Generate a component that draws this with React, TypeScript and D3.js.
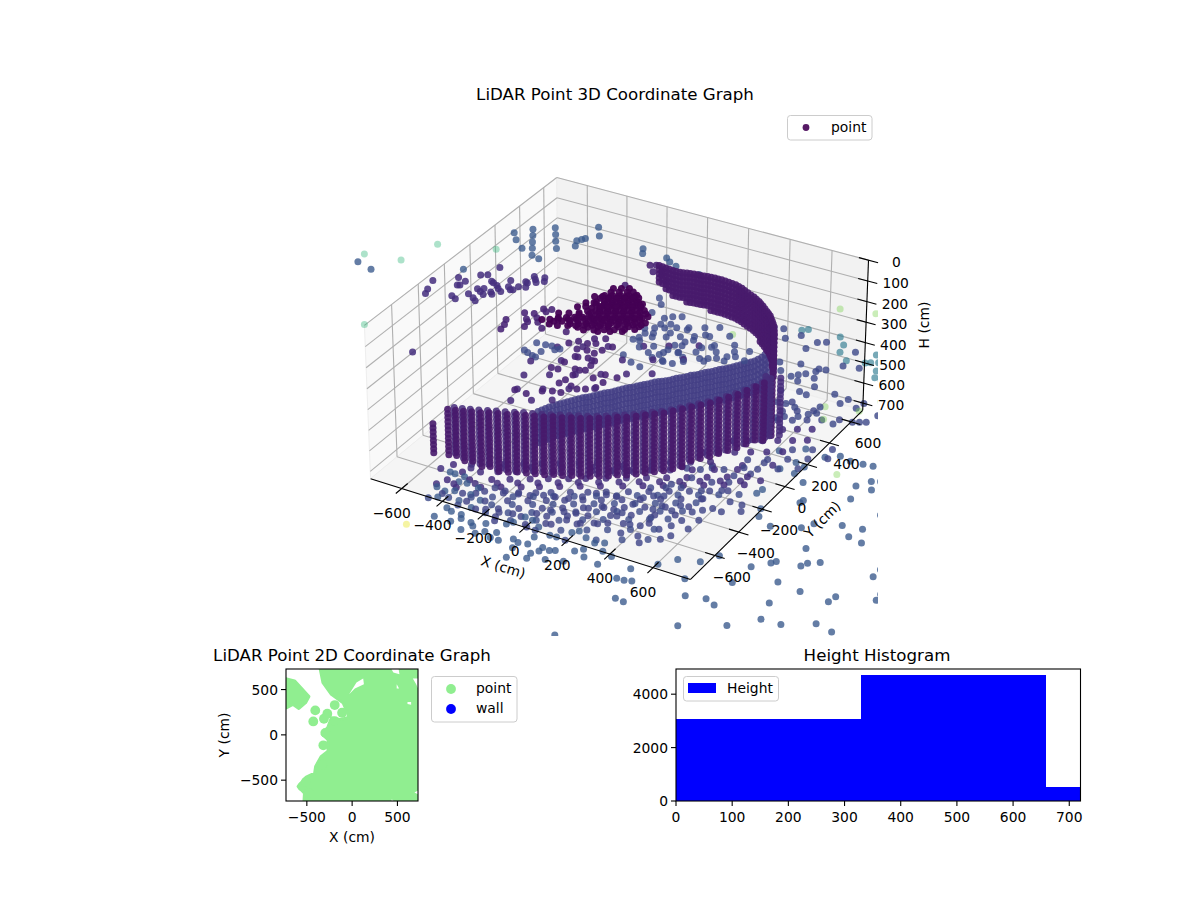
import * as d3 from "d3";

type P2 = [number, number];
type Col = [number, number, number]; // x, y, lowest height

const FONT = "DejaVu Sans";

// limits of the 3D box
const xLim3d = [-755, 772];
const yLim3d = [-800, 710];
const hLim3d = [0, 736];
const xTicks3d = [-600, -400, -200, 0, 200, 400, 600];
const yTicks3d = [-600, -400, -200, 0, 200, 400, 600];
const hTicks3d = [0, 100, 200, 300, 400, 500, 600, 700];

// floor returns, read group by group
const floorWest: P2[] = [[-481,-716],[-435,-727],[-400,-706],[-435,-781],[-344,-761],[-495,-592],[-471,-592],[-423,-594],[-423,-638],[-387,-631],[-327,-639],[-327,-698],[-269,-716],[-271,-782],[-357,-833],[-327,-846],[-279,-846],[-367,-913],[-289,-911],[-211,-879],[-263,-872],[-219,-943],[-191,-897],[-155,-854],[-153,-939],[-126,-908],[-81,-890],[-83,-935],[-44,-936],[-80,-816],[-62,-791],[-41,-733],[-2,-740],[46,-770],[118,-801],[148,-798],[70,-844],[4,-898],[34,-911],[74,-901],[35,-955],[140,-893],[140,-922],[120,-954],[175,-899],[195,-886],[125,-992],[50,-1026],[195,-964],[265,-938],[320,-870],[265,-851],[290,-823],[395,-889],[340,-740],[305,-760],[255,-744],[185,-739],[205,-714],[365,-797],[415,-813],[505,-1402],[545,-936],[620,-1070]];
const floorWestMid: P2[] = [[-291,-647],[-267,-604],[-218,-604],[-158,-597],[-110,-583],[-62,-554],[-14,-541],[40,-524],[83,-484],[119,-432],[161,-422],[203,-412],[-213,-763],[-153,-756],[-98,-738],[-14,-688],[22,-637],[76,-620],[125,-606],[149,-547],[191,-507],[245,-505],[-135,-819],[4,-795],[58,-734],[118,-669],[179,-662],[227,-633],[275,-604],[281,-541]];
const floorFill: P2[] = [[-433,-750],[-361,-707],[-314,-679],[-216,-621],[-162,-588],[-101,-552],[-47,-520],[22,-479],[84,-442],[149,-403],[228,-356],[301,-313],[373,-270],[445,-227],[517,-184],[582,-145],[-314,-750],[-249,-711],[-169,-664],[-97,-621],[-32,-582],[33,-543],[98,-505],[163,-466],[236,-423],[301,-384],[373,-341],[445,-298],[518,-255],[-250,-782],[-170,-734],[-98,-691],[-15,-642],[57,-599],[130,-555],[202,-512],[274,-469],[347,-426],[419,-383],[502,-334],[-148,-792],[-58,-738],[32,-684],[105,-641],[177,-598],[256,-550],[329,-507],[412,-458],[484,-415],[-11,-781],[79,-727],[170,-673],[242,-630],[332,-576],[423,-523]];
const floorFillNear: P2[] = [[-545,-587],[-437,-522],[-328,-457],[-220,-393],[-112,-328],[-3,-264],[105,-199],[214,-135],[322,-70],[431,-5],[539,59],[648,124],[-495,-698],[-433,-661],[-357,-616],[-278,-569],[-205,-526],[-133,-483],[-61,-440],[11,-397],[84,-354],[156,-310],[228,-267],[301,-224],[373,-181],[445,-138],[518,-95],[590,-52],[662,-9]];
const floorFillFar: P2[] = [[-466,-805],[-394,-762],[-314,-715],[-239,-669],[-166,-626],[-94,-583],[-22,-540],[51,-497],[130,-450],[202,-407],[275,-364],[347,-320],[419,-277],[492,-234],[564,-191],[636,-148],[-329,-793],[-210,-722],[-137,-679],[-65,-636],[7,-593],[80,-550],[152,-507],[224,-464],[297,-421],[369,-378],[441,-335],[513,-292],[-199,-787],[-119,-740],[-36,-690],[36,-647],[119,-598],[192,-555],[264,-511],[344,-464],[416,-421],[495,-374],[-79,-786],[11,-732],[91,-685],[174,-635],[246,-592],[336,-539],[409,-496],[474,-457],[47,-799],[137,-746],[228,-692],[300,-649],[380,-601],[463,-552],[191,-802],[299,-738],[389,-684],[480,-631]];
const floorEast: P2[] = [[617,240],[723,191],[688,113],[708,307],[809,288],[770,176],[758,110],[861,328],[916,313],[973,318],[1017,324],[822,66],[1025,151],[1065,213],[1099,231],[1095,155],[1052,50],[1215,0],[695,-104],[701,-65],[766,-200],[787,-255],[863,-298],[884,-79],[888,-57],[978,-245],[1008,-192],[1115,-148],[1199,-131],[1176,-209],[1242,-225],[1066,-372],[1164,-436],[1122,-465],[1108,-496],[1007,-516],[994,-537],[938,-600],[1083,-644],[927,-737],[1191,-660],[1322,-669],[1331,-624],[1395,-423],[1397,-362],[1478,-521],[1481,-566],[1124,-793],[942,-913],[893,-890],[811,-912],[750,-807],[657,-700],[743,-668],[789,-593],[605,-769],[527,-852],[575,-926],[513,-939],[580,-1064],[889,-1110],[1054,-1012],[1149,-908],[1234,-902],[1351,-829],[1430,-850],[1004,-1171]];
const floorEastMid: P2[] = [[685,-213],[631,-216],[706,-259],[637,-301],[594,-297],[564,-329],[534,-362],[468,-342],[456,-394],[402,-381],[383,-422],[372,-312],[335,-333],[305,-366],[293,-431],[287,-509],[359,-569],[401,-558],[407,-481],[480,-542],[546,-561],[522,-604],[461,-670],[431,-629],[359,-643],[510,-494],[528,-439],[582,-481],[588,-403],[553,-85],[559,-156],[492,-121],[486,-199],[402,-131],[402,-220],[354,-218],[601,16],[608,123],[553,47],[547,-30],[487,-7],[438,-21],[402,-57],[348,-75],[348,-252],[293,-284],[522,-251],[608,65],[681,108],[753,151],[536,110],[608,153],[680,197],[753,240],[825,283],[662,274],[735,317],[807,360],[494,456],[548,488],[602,520],[656,552],[721,591],[476,533],[530,566],[591,602],[422,590],[476,622]];
const wallFuzz: P2[] = [[-516,-534],[-451,-495],[-386,-456],[-332,-424],[-263,-383],[-198,-344],[-133,-306],[-64,-265],[1,-226],[73,-183],[135,-146],[200,-108],[265,-69],[337,-26],[409,18],[-451,-566],[-386,-528],[-324,-491],[-259,-452],[-194,-413],[-126,-373],[-60,-334],[12,-291],[84,-248],[149,-209],[222,-166],[294,-123],[373,-75],[453,-28],[536,21],[-473,-649],[-393,-602],[-314,-555],[-249,-516],[-177,-473],[-112,-434],[-39,-391],[22,-355],[94,-311],[167,-268],[239,-225],[311,-182],[384,-139],[456,-96],[528,-53],[600,-10],[-408,-682],[-321,-630],[-249,-587],[-177,-544],[-112,-505],[-40,-462],[33,-419],[105,-376],[185,-329],[257,-286],[329,-243],[401,-200],[474,-157],[546,-114],[618,-70],[345,67],[402,102],[460,136],[518,170],[576,205],[634,239],[410,212],[464,244],[518,276],[573,309],[627,341],[681,373],[493,367],[548,399],[602,432],[656,464]];

// points on the right, higher up
const rightMid: P2[] = [[333,711],[419,653],[375,721],[467,708],[556,687],[588,710],[537,618],[735,694],[742,565],[810,582],[580,490],[494,462],[531,401],[612,406],[636,428],[592,379],[664,466],[666,491],[695,499],[684,413],[718,351],[634,359],[682,285],[678,171],[724,163],[609,256],[718,277],[771,103],[799,140],[825,165],[814,217],[820,338],[888,329],[874,282],[949,282],[959,332],[924,121],[987,173],[1012,188],[1036,202],[1054,272],[1096,223],[722,75],[696,50]];
const rightTeal: P2[] = [[448,749],[470,768],[619,778],[663,724],[678,661],[734,611],[812,634],[832,646],[861,663],[823,717],[883,597],[903,544],[935,539]];
const farGreen: P2[] = [[506,996],[659,1037],[208,568],[832,228],[873,135],[971,266],[1118,-220],[976,475],[1014,381]];
const farYellow: P2[] = [[-433,-1020],[-590,-1235]];
const farTeal: P2[] = [[-884,408],[-1359,87],[-1190,120],[-1130,319],[-1011,-433]];

// left wall and middle of the room
const backPurple: P2[] = [[-970,33],[-948,-42],[-935,-79],[-826,-41],[-799,-56],[-889,111],[-857,51],[-847,56],[-845,96],[-774,9],[-738,-11],[-717,-28],[-765,67],[-741,51],[-741,81],[-717,36],[-700,70],[-685,55],[-818,177],[-792,193],[-782,275],[-747,152],[-733,144],[-707,131],[-689,112],[-665,94],[-659,147],[-638,128],[-629,134],[-679,198],[-622,169],[-618,222],[-606,215],[-592,179],[-576,238],[-610,279],[-592,258],[-565,292],[-550,263],[-709,-526]];
const backBlue: P2[] = [[-896,577],[-854,525],[-791,472],[-841,645],[-811,595],[-781,543],[-751,493],[-719,438],[-677,425],[-763,706],[-729,653],[-696,599],[-659,544],[-619,650],[-599,604],[-606,670],[-596,685],[-599,804],[-555,736],[-1343,13],[-1257,-14],[-910,183],[-330,730],[-309,690],[-198,706],[-168,681],[-126,661],[-3,646]];
const innerPurple: P2[] = [[-480,-12],[-445,-54],[-428,-73],[-418,-114],[-441,2],[-412,-24],[-389,-54],[-427,55],[-405,39],[-394,68],[-348,-89],[-517,-101],[-500,-141],[-493,-181],[-243,-65],[-185,-140],[-157,-108],[-115,-106],[-110,-57],[-85,-88],[-70,-33],[-10,-79],[-130,-166],[-104,-224],[-92,-222],[-119,-285],[-88,-155],[-34,-123],[-49,-162],[-52,-207],[-143,-350],[-113,-347],[-10,-256],[-16,-215],[-52,-311],[-31,-312],[-10,-300],[50,-338],[80,-291],[134,-288],[-34,-359],[-41,-407],[-50,-442],[5,-439],[-179,-578],[-77,-531],[-123,-580],[-41,-510],[-5,-503],[38,-448],[68,-430],[98,-398],[104,-350],[-228,614],[-205,628],[-188,570],[-159,597],[-141,563],[-93,518],[-232,406]];
const innerBlue: P2[] = [[-303,-204],[-262,-200],[-233,-197],[-315,-282],[-293,-292],[-263,-304],[-245,-308],[-248,-259],[-207,-217],[-191,-202],[-49,382],[-14,336],[-13,256],[57,239],[81,268],[115,288],[105,209],[69,187],[80,106],[141,142],[189,201],[277,200],[255,137],[231,107],[207,63],[201,16],[189,-36],[176,-72],[225,-73],[273,-74],[285,-8],[249,15],[315,99],[348,124],[351,17],[381,35],[411,53],[442,86],[472,104],[50,88],[62,22],[86,-23],[61,-112],[120,-150],[170,-164],[32,19]];
const fingers: P2[] = [[27,125],[63,146],[99,168],[142,194],[186,220],[244,254],[298,286],[45,47],[92,75],[142,105],[193,135],[243,166],[298,198],[370,241],[135,12],[236,73],[352,142],[424,185],[142,-45],[196,-13],[250,19],[312,56],[384,99],[449,138],[503,170],[232,-80],[304,-37],[377,6],[449,49],[521,92]];
const innerExtra: P2[] = [[-209,-192],[-118,-138],[-28,-84],[99,-9],[189,45],[297,109],[-245,-346],[-137,-281],[-28,-217],[80,-152],[189,-88],[297,-23],[-209,-458],[-119,-404],[-28,-350],[62,-296],[152,-242],[243,-189],[-173,-568],[-83,-515],[8,-461],[98,-407],[-148,-659],[-76,-616],[-4,-573]];

// the dense return close to the sensor
const nearCluster: P2[] = [[-117,91],[-88,109],[-59,126],[-37,139],[-128,23],[-99,40],[-70,57],[-41,75],[-12,92],[9,105],[-117,-32],[-88,-15],[-60,3],[-31,20],[-2,37],[27,54],[49,67],[-120,-96],[-91,-79],[-62,-62],[-34,-44],[-5,-27],[24,-10],[53,7],[82,25],[-197,-203],[-168,-186],[-139,-169],[-110,-152],[-81,-134],[-52,-117],[-23,-100],[6,-83],[35,-65],[64,-48],[93,-31],[122,-14],[-201,-268],[-128,-224],[-99,-207],[-70,-190],[-41,-173],[-12,-156],[16,-138],[45,-121],[74,-104],[103,-87],[139,-65],[-53,-241],[-16,-220],[20,-198],[56,-177],[92,-155],[128,-134],[-125,52],[-96,69],[-67,87],[-38,104],[-9,121],[-127,-12],[-98,5],[-70,23],[-41,40],[-12,57],[17,74],[-117,-67],[-88,-50],[-59,-33],[-30,-16],[-1,1],[28,19],[57,36],[-135,-140],[-99,-119],[-70,-101],[-41,-84],[-12,-67],[17,-50],[46,-33],[75,-15],[103,2],[-197,-239],[-168,-222],[-139,-204],[-110,-187],[-74,-166],[-45,-149],[-16,-131],[13,-114],[42,-97],[70,-80],[107,-58],[-85,-234],[-49,-213],[-13,-191],[23,-170],[59,-148],[95,-127],[132,-105],[-96,34],[-67,52],[-38,69],[-9,87],[-84,-25],[-55,-8],[-26,9],[3,26],[32,43],[-75,-76],[-46,-59],[-17,-42],[12,-25],[41,-7],[-60,-142],[-31,-125],[-2,-108],[27,-90],[56,-73],[85,-56],
  [-124,123],[-95,140],[-66,157],[-157,24],[-128,41],[-99,58],[-70,76],[-41,93],[-12,110],[-161,-40],[-132,-23],[-88,3],[-59,20],[-30,37],[-2,54],[27,72],[-175,-85],[-146,-67],[-95,-37],[-66,-20],[-37,-3],[-8,14],[21,32],[50,49],[-215,-170],[-178,-149],[-142,-127],[-99,-101],[-70,-84],[-41,-67],[-12,-50],[17,-33],[46,-15],[75,2],[-247,-251],[-219,-234],[-190,-216],[-153,-195],[-125,-178],[-96,-160],[-67,-143],[-38,-126],[-9,-109],[20,-91],[49,-74],[78,-57],[107,-40],[-165,-263],[-128,-242],[-100,-225],[-71,-207],[-42,-190],[-13,-173],[16,-156],[45,-138],[74,-121],[103,-104],[132,-87],[5,-224],[48,-198],[92,-173]];

// wall columns: x, y, lowest height reached
const frontWall: Col[] = [[-461,-762,540],[-471,-635,620],[-439,-625,620],[-406,-615,640],[-374,-603,640],[-338,-591,660],[-308,-574,660],[-273,-561,680],[-236,-548,680],[-204,-529,680],[-168,-516,680],[-132,-504,680],[-95,-491,680],[-63,-471,680],[-27,-459,680],[6,-440,680],[42,-427,680],[75,-408,680],[107,-388,680],[140,-369,680],[168,-343,680],[201,-324,680],[231,-298,680],[259,-271,680],[288,-245,680],[317,-219,680],[342,-186,680],[368,-154,680],[393,-121,660],[418,-88,660],[444,-55,660],[465,-16,660],[487,24,660],[509,63,660],[527,109,660],[545,155,660],[560,199,680],[571,250,680]];
const frontWallBack: Col[] = [[-455,-610,620],[-422,-600,640],[-390,-589,640],[-356,-577,660],[-323,-562,660],[-290,-547,680],[-255,-534,680],[-220,-518,680],[-186,-502,680],[-150,-490,680],[-113,-477,680],[-79,-461,680],[-45,-445,680],[-10,-429,680],[24,-413,680],[58,-397,680],[91,-378,680],[123,-358,680],[154,-336,680],[184,-313,680],[216,-291,680],[245,-264,680],[273,-238,680],[302,-212,680],[330,-182,680],[355,-150,680],[380,-117,660],[405,-84,660],[431,-51,660],[454,-15,660],[476,24,660],[498,64,660],[518,106,660],[536,152,660],[552,197,680],[566,245,680],[555,225,680],[540,250,680],[600,270,680]];
const wallLevels = [400, 420, 440, 460, 480, 500, 520, 540, 560, 580, 600, 620, 640, 660, 680];
const innerBand: P2[] = [[-95,-536],[-81,-501],[-66,-467],[-48,-438],[-30,-410],[-12,-381],[7,-352],[28,-331],[47,-302],[65,-274],[87,-252],[104,-224],[123,-195],[145,-173],[163,-145],[184,-123],[202,-94],[224,-73],[246,-51],[264,-23],[286,-1],[304,28],[326,49],[344,78],[365,100],[384,128],[405,150],[423,178],[442,207],[460,235],[478,264],[489,306],[492,360],[-88,-518],[-74,-484],[-57,-452],[-39,-424],[-21,-395],[-3,-366],[17,-341],[37,-316],[56,-288],[76,-263],[95,-238],[113,-209],[134,-184],[154,-159],[173,-134],[193,-108],[213,-83],[235,-62],[255,-37],[275,-12],[295,13],[315,38],[335,63],[354,89],[374,114],[394,139],[414,164],[432,192],[451,221],[469,249],[483,285],[490,333]];
const innerLevels = [350, 375, 400, 425, 450, 475, 500];
const backBand: Col[] = [[-12,314,130],[24,309,150],[60,304,170],[93,305,170],[122,314,190],[151,322,190],[183,324,190],[212,332,190],[245,334,210],[277,335,210],[313,331,210],[349,326,210],[386,312,210],[425,291,210],[465,271,210],[501,248,220],[533,223,230],[569,191,230],[598,165,240],[627,129,240],[655,93,250],[684,40,250],[6,311,140],[42,306,160],[76,304,170],[107,309,180],[136,318,190],[167,323,190],[197,328,190],[228,333,210],[261,334,210],[295,333,210],[331,328,210],[367,319,210],[405,301,210],[445,281,210],[483,259,220],[517,235,230],[551,207,230],[583,178,240],[612,147,240],[641,111,250],[669,66,250]];
const backLevels = [50, 70, 90, 110, 130, 150, 170, 190, 210, 230, 250];

// 2D outline, in cm
const coverMain: P2[] = [[-359,760],[780,760],[780,-760],[-533,-760],[-526,-644],[-596,-570],[-507,-466],[-414,-422],[-403,-348],[-340,-237],[-266,-181],[-266,-52],[-329,4],[-266,89],[-229,189],[-137,170],[-44,189],[-44,226],[-100,355],[-229,448],[-322,577]];
const coverLeft: P2[] = [[-747,622],[-636,596],[-477,422],[-514,355],[-588,292],[-655,337],[-722,300],[-790,300]];
const coverDots: P2[] = [[-407,270],[-429,148],[-274,233],[-311,178],[-192,329],[-111,244],[-192,152],[-296,22],[-318,-115],[-550,-570],[-510,-520],[-480,-640],[-330,-330]];
const coverHoles: P2[][] = [
  [[-33,448],[48,577],[122,622],[130,559],[30,511]],
  [[426,740],[511,740],[522,670],[455,688]],
  [[670,622],[740,622],[740,485],[707,559]],
  [[492,559],[518,511],[492,511]],
  [[611,363],[651,363],[651,333],[611,340]],
  [[688,-636],[740,-607],[740,-662]],
  [[437,-710],[470,-740],[430,-740]],
];
const ticks2d = [-500, 0, 500];

const histEdges = [0, 329, 658, 988];
const histCounts = [3070, 4720, 525];
const histXTicks = [0, 100, 200, 300, 400, 500, 600, 700];
const histYTicks = [0, 2000, 4000];

// --- 3D projection, same maths as a mplot3d camera
const elev = (30 * Math.PI) / 180;
const azim = (-60 * Math.PI) / 180;
const eye = [Math.cos(elev) * Math.cos(azim), Math.cos(elev) * Math.sin(azim), Math.sin(elev)];
const uAxis = [-Math.sin(azim), Math.cos(azim), 0];
const vAxis = [-Math.sin(elev) * Math.cos(azim), -Math.sin(elev) * Math.sin(azim), Math.cos(elev)];

const xBox = d3.scaleLinear().domain(xLim3d).range([-0.5, 0.5]);
const yBox = d3.scaleLinear().domain(yLim3d).range([-0.5, 0.5]);
const hBox = d3.scaleLinear().domain(hLim3d).range([0.24, -0.24]);
const screenX = d3.scaleLinear().domain([0, 0.1]).range([620.5, 985]);
const screenY = d3.scaleLinear().domain([0, 0.1]).range([369, 4]);

function project(x: number, y: number, h: number) {
  const p = [xBox(x), yBox(y), hBox(h)];
  const dot = (a: number[]) => a[0] * p[0] + a[1] * p[1] + a[2] * p[2];
  const depth = dot(eye);
  const d = 10 - depth;
  return { sx: screenX(dot(uAxis) / d), sy: screenY(dot(vAxis) / d), depth };
}

const [xa, xb] = xLim3d;
const [ya, yb] = yLim3d;
const [ha, hb] = hLim3d;

function pane(corners: number[][]) {
  return corners.map((c) => {
    const q = project(c[0], c[1], c[2]);
    return `${q.sx},${q.sy}`;
  }).join(" ");
}

function seg(a: number[], b: number[]) {
  const p = project(a[0], a[1], a[2]);
  const q = project(b[0], b[1], b[2]);
  return { x1: p.sx, y1: p.sy, x2: q.sx, y2: q.sy };
}

interface Dot { x: number; y: number; h: number; c: number; top?: boolean }
const group = (pts: P2[], h: number, c: number): Dot[] => pts.map(([x, y]) => ({ x, y, h, c }));
const columns = (cols: Col[], levels: number[], c: number, top = false): Dot[] =>
  cols.flatMap(([x, y, low]) => levels.filter((h) => h <= low).map((h) => ({ x, y, h, c, top })));

const dots: Dot[] = [
  ...group(floorWest, hb, 0.27),
  ...group(floorWestMid, hb, 0.2),
  ...group(floorFill, hb, 0.2),
  ...group(floorFillNear, hb, 0.15),
  ...group(floorFillFar, hb, 0.23),
  ...group(floorEast, hb, 0.27),
  ...group(floorEastMid, hb, 0.21),
  ...group(wallFuzz, hb, 0.14),
  ...group(rightMid, 450, 0.22),
  ...group(rightTeal, 450, 0.4),
  ...group(farGreen, 450, 0.8),
  ...group(farYellow, hb, 0.96),
  ...group(farTeal, 250, 0.66),
  ...group(backPurple, 250, 0.14),
  ...group(backBlue, 250, 0.27),
  ...group(innerPurple, 250, 0.1),
  ...group(innerBlue, 250, 0.23),
  ...group(fingers, 250, 0.23),
  ...group(innerExtra, 250, 0.12),
  ...group(nearCluster, 100, 0),
  ...innerBand.flatMap(([x, y]) => innerLevels.map((h) => ({ x, y, h, c: 0.18 }))),
  ...columns(frontWallBack, wallLevels, 0.13, true),
  ...columns(frontWall, wallLevels, 0.07, true),
  ...columns(backBand, backLevels, 0.07),
];

// the front wall sits over the inner band, everything else by depth
const projected = dots
  .map((d) => ({ ...project(d.x, d.y, d.h), c: d.c, top: d.top ? 1 : 0 }))
  .sort((a, b) => d3.ascending(a.top, b.top) || d3.ascending(a.depth, b.depth));

const alphaOf = d3.scaleLinear().domain([0, 0.3, 0.6]).range([0.95, 0.76, 0.4]).clamp(true);
const GRID = "#b0b0b0";

// --- 2D axes
const x2d = d3.scaleLinear().domain([-730, 727]).range([286, 418]);
const y2d = d3.scaleLinear().domain([-730, 727]).range([801, 669]);
const coverLine = d3.line<P2>().x((d) => x2d(d[0])).y((d) => y2d(d[1])).curve(d3.curveLinearClosed);

// --- histogram
const xHist = d3.scaleLinear().domain([0, 720]).range([676, 1080.5]);
const yHist = d3.scaleLinear().domain([0, 4943]).range([801, 669]);

const label = { fontFamily: FONT, fontSize: 13.89, fill: "#000" };
const title = { fontFamily: FONT, fontSize: 16.67, fill: "#000" };

export default function App() {
  return (
    <svg width={1200} height={900} style={{ position: "absolute", left: 0, top: 0, background: "#fff" }}>
      <defs>
        <clipPath id="clip3d"><rect x={350} y={111} width={528} height={525} /></clipPath>
        <clipPath id="clip2d"><rect x={286} y={669} width={132} height={132} /></clipPath>
        <clipPath id="clipHist"><rect x={676} y={669} width={404.5} height={132} /></clipPath>
      </defs>

      <text x={615} y={100} textAnchor="middle" {...title}>LiDAR Point 3D Coordinate Graph</text>

      {/* panes */}
      <polygon points={pane([[xa, ya, ha], [xa, yb, ha], [xa, yb, hb], [xa, ya, hb]])} fill="#f9f9f9" stroke="#eeeeee" />
      <polygon points={pane([[xa, yb, ha], [xb, yb, ha], [xb, yb, hb], [xa, yb, hb]])} fill="#f2f2f2" stroke="#eeeeee" />
      <polygon points={pane([[xa, ya, hb], [xb, ya, hb], [xb, yb, hb], [xa, yb, hb]])} fill="#f5f5f5" stroke="#eeeeee" />

      {/* grid */}
      <g stroke={GRID} strokeWidth={1.1} fill="none">
        {xTicks3d.map((t) => (
          <g key={t}>
            <line {...seg([t, ya, hb], [t, yb, hb])} />
            <line {...seg([t, yb, hb], [t, yb, ha])} />
          </g>
        ))}
        {yTicks3d.map((t) => (
          <g key={t}>
            <line {...seg([xb, t, hb], [xa, t, hb])} />
            <line {...seg([xa, t, hb], [xa, t, ha])} />
          </g>
        ))}
        {hTicks3d.map((t) => (
          <g key={t}>
            <line {...seg([xa, ya, t], [xa, yb, t])} />
            <line {...seg([xa, yb, t], [xb, yb, t])} />
          </g>
        ))}
      </g>

      {/* points */}
      <g clipPath="url(#clip3d)">
        {projected.map((d, i) => (
          <circle key={i} cx={d.sx} cy={d.sy} r={3.5} fill={d3.interpolateViridis(d.c)} fillOpacity={alphaOf(d.c)} />
        ))}
      </g>

      {/* 3D axes */}
      <g stroke="#000" strokeWidth={1.1}>
        <line {...seg([xa, ya, hb], [xb, ya, hb])} />
        <line {...seg([xb, ya, hb], [xb, yb, hb])} />
        <line {...seg([xb, yb, hb], [xb, yb, ha])} />
        {xTicks3d.map((t) => <line key={t} {...seg([t, ya - 45, hb], [t, ya + 45, hb])} />)}
        {yTicks3d.map((t) => <line key={t} {...seg([xb - 45, t, hb], [xb + 45, t, hb])} />)}
        {hTicks3d.map((t) => <line key={t} {...seg([xb + 45, yb, t], [xb - 45, yb, t])} />)}
      </g>
      {xTicks3d.map((t) => {
        const q = project(t, ya, hb);
        return <text key={t} x={q.sx - 10} y={q.sy + 29} textAnchor="middle" {...label}>{String(t).replace("-", "\u2212")}</text>;
      })}
      {yTicks3d.map((t) => {
        const q = project(xb, t, hb);
        return <text key={t} x={q.sx + 17} y={q.sy + 26} textAnchor="middle" {...label}>{String(t).replace("-", "\u2212")}</text>;
      })}
      {hTicks3d.map((t) => {
        const q = project(xb, yb, t);
        return <text key={t} x={q.sx + 28} y={q.sy + 7} textAnchor="middle" {...label}>{t}</text>;
      })}
      <text transform="translate(503,568) rotate(17)" textAnchor="middle" dominantBaseline="middle" {...label}>X (cm)</text>
      <text transform="translate(823,520) rotate(-45)" textAnchor="middle" dominantBaseline="middle" {...label}>Y (cm)</text>
      <text transform="translate(925,325) rotate(-90)" textAnchor="middle" dominantBaseline="middle" {...label}>H (cm)</text>

      {/* 3D legend */}
      <rect x={787.5} y={115.5} width={84.5} height={24.5} rx={3} fill="#fff" fillOpacity={0.8} stroke="#cccccc" />
      <circle cx={806} cy={127.5} r={3.4} fill="#440154" fillOpacity={0.9} />
      <text x={831} y={132} {...label}>point</text>

      {/* 2D plot */}
      <text x={352} y={661} textAnchor="middle" {...title}>LiDAR Point 2D Coordinate Graph</text>
      <g clipPath="url(#clip2d)">
        <path d={coverLine(coverMain) ?? ""} fill="#90ee90" stroke="#90ee90" strokeWidth={3} strokeLinejoin="round" />
        <path d={coverLine(coverLeft) ?? ""} fill="#90ee90" stroke="#90ee90" strokeWidth={3} strokeLinejoin="round" />
        {coverDots.map((d, i) => <circle key={i} cx={x2d(d[0])} cy={y2d(d[1])} r={4.9} fill="#90ee90" />)}
        {coverHoles.map((d, i) => <path key={i} d={coverLine(d) ?? ""} fill="#fff" />)}
      </g>
      <rect x={286} y={669} width={132} height={132} fill="none" stroke="#000" strokeWidth={1.1} />
      {ticks2d.map((t) => (
        <g key={t}>
          <line x1={x2d(t)} x2={x2d(t)} y1={801} y2={806} stroke="#000" strokeWidth={1.1} />
          <text x={x2d(t)} y={822} textAnchor="middle" {...label}>{String(t).replace("-", "\u2212")}</text>
          <line x1={281} x2={286} y1={y2d(t)} y2={y2d(t)} stroke="#000" strokeWidth={1.1} />
          <text x={278} y={y2d(t) + 5} textAnchor="end" {...label}>{String(t).replace("-", "\u2212")}</text>
        </g>
      ))}
      <text x={352} y={842} textAnchor="middle" {...label}>X (cm)</text>
      <text transform="translate(225,735) rotate(-90)" textAnchor="middle" dominantBaseline="middle" {...label}>Y (cm)</text>

      <rect x={431.5} y={676.5} width={85.5} height={45.5} rx={3} fill="#fff" stroke="#cccccc" />
      <circle cx={451} cy={689} r={4.9} fill="#90ee90" />
      <circle cx={451} cy={709} r={4.9} fill="#0000ff" />
      <text x={476} y={693} {...label}>point</text>
      <text x={476} y={713} {...label}>wall</text>

      {/* histogram */}
      <text x={877} y={661} textAnchor="middle" {...title}>Height Histogram</text>
      <g clipPath="url(#clipHist)" shapeRendering="crispEdges">
        {histCounts.map((c, i) => (
          <rect key={i} x={xHist(histEdges[i])} y={yHist(c)} width={xHist(histEdges[i + 1]) - xHist(histEdges[i])} height={801 - yHist(c)} fill="#0000ff" />
        ))}
      </g>
      <rect x={676} y={669} width={404.5} height={132} fill="none" stroke="#000" strokeWidth={1.1} />
      {histXTicks.map((t) => (
        <g key={t}>
          <line x1={xHist(t)} x2={xHist(t)} y1={801} y2={806} stroke="#000" strokeWidth={1.1} />
          <text x={xHist(t)} y={822} textAnchor="middle" {...label}>{t}</text>
        </g>
      ))}
      {histYTicks.map((t) => (
        <g key={t}>
          <line x1={671} x2={676} y1={yHist(t)} y2={yHist(t)} stroke="#000" strokeWidth={1.1} />
          <text x={668} y={yHist(t) + 5} textAnchor="end" {...label}>{t}</text>
        </g>
      ))}
      <rect x={683.5} y={676.5} width={95} height={24.5} rx={3} fill="#fff" fillOpacity={0.8} stroke="#cccccc" />
      <rect x={688} y={683} width={28} height={10} fill="#0000ff" />
      <text x={727} y={693} {...label}>Height</text>
    </svg>
  );
}
